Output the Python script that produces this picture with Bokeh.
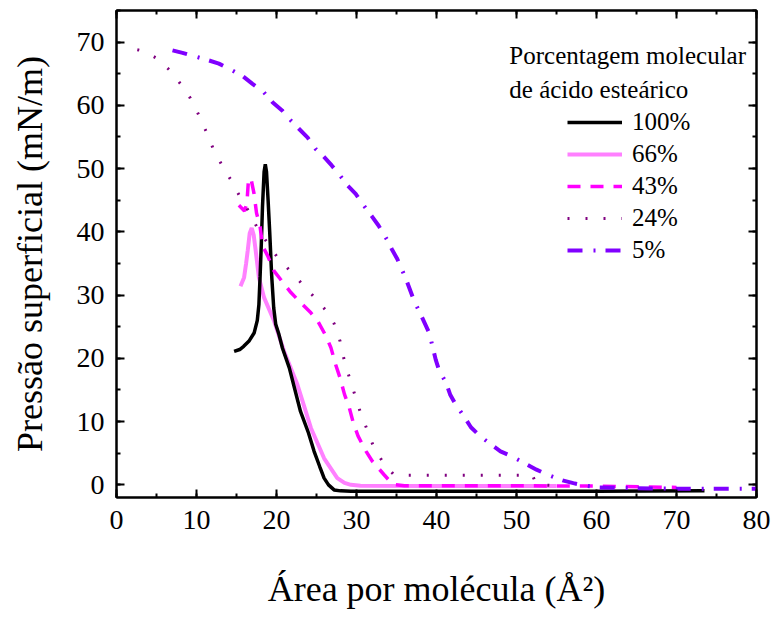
from bokeh.plotting import figure
from bokeh.models import Range1d, LinearAxis, Legend, LegendItem, Label, SingleIntervalTicker
from bokeh.embed import file_html
from bokeh.resources import INLINE

# ---- data ----
x100 = [14.7, 15.4, 15.9, 16.6, 17.2, 17.6, 17.8, 17.95, 18.1, 18.25, 18.45, 18.6, 18.75, 18.95, 19.15,
        19.4, 19.65, 19.9, 20.3, 20.75, 21.6, 23.0, 24.0, 24.7, 25.4, 25.95, 26.5, 27.2, 28.0, 29.3,
        40.0, 50.0, 60.0, 73.5]
y100 = [21.1, 21.4, 21.9, 22.8, 24.0, 26.0, 28.5, 33.0, 38.0, 44.0, 49.5, 50.7, 49.5, 45.0, 40.0,
        33.0, 28.0, 25.4, 23.8, 21.6, 18.5, 11.6, 8.2, 5.3, 2.9, 1.06, 0.0, -0.8, -0.95, -1.0,
        -1.0, -1.0, -1.0, -0.95]

x66 = [15.5, 15.95, 16.2, 16.4, 16.65, 16.9, 17.15, 17.4, 17.8, 18.45, 19.7, 20.95, 22.6, 24.3,
       25.95, 27.6, 28.5, 29.3, 30.5, 40.0, 55.0]
y66 = [31.4, 32.8, 35.0, 37.0, 39.8, 40.6, 39.5, 37.0, 32.8, 29.6, 25.9, 21.1, 15.9, 9.0,
       4.2, 1.06, 0.3, 0.0, -0.15, -0.2, -0.2]

x43 = [15.3, 16.0, 16.3, 16.5, 16.8, 17.2, 17.5, 17.95, 18.25, 18.9, 19.7, 20.5, 21.8, 22.8, 24.3,
       25.2, 26.2, 26.8, 27.4, 27.95, 28.5, 29.1, 29.6, 30.2, 31.2, 32.0, 33.45, 34.5, 36.0, 50.0,
       60.0, 70.0]
y43 = [44.2, 43.3, 44.5, 48.3, 48.5, 46.0, 43.0, 40.8, 37.8, 36.2, 33.8, 32.5, 30.4, 29.1, 27.2,
       25.8, 23.5, 21.7, 19.0, 16.9, 14.3, 12.2, 9.8, 7.7, 5.3, 3.7, 1.6, 0.1, -0.15, -0.15,
       -0.2, -0.4]

x24 = [2.6, 3.3, 5.1, 6.7, 8.0, 9.2, 10.2, 11.2, 12.1, 13.2, 14.4, 15.5, 16.6, 17.7, 18.9, 20.1,
       21.5, 23.25, 24.7, 26.1, 27.2, 27.95, 28.45, 29.1, 29.8, 30.5, 31.4, 32.2, 33.4, 34.6, 35.5,
       45.0, 52.0, 52.4, 53.0, 56.0]
y24 = [68.8, 68.6, 67.4, 65.5, 63.4, 61.2, 58.7, 55.9, 53.1, 50.5, 48.0, 45.4, 43.1, 40.4, 38.2, 36.0,
       34.1, 31.7, 29.7, 27.7, 25.5, 22.7, 19.8, 17.0, 14.2, 11.4, 8.5, 5.8, 3.4, 1.7, 1.5,
       1.5, 1.5, 0.3, 0.0, -0.2]

x5 = [7.0, 8.25, 9.9, 11.3, 12.8, 14.5, 15.8, 17.0, 18.4, 19.5, 20.7, 21.8, 22.8, 23.9, 24.9, 25.9,
      26.9, 27.95, 28.9, 29.9, 30.95, 31.9, 32.75, 33.8, 34.4, 35.1, 36.2, 37.2, 38.0, 39.1, 39.9,
      40.3, 41.2, 41.7, 42.4, 43.45, 44.3, 45.45, 46.8, 48.0, 49.4, 51.2, 52.5, 53.9, 55.75, 57.1,
      58.5, 60.3, 65.0, 70.0, 80.0]
y5 = [68.7, 68.3, 67.7, 67.2, 66.6, 65.5, 64.6, 63.4, 62.1, 60.5, 59.2, 57.6, 56.3, 54.9, 53.1, 51.9,
      50.5, 48.9, 47.3, 46.0, 44.1, 42.5, 41.0, 38.8, 37.3, 35.7, 32.5, 29.1, 27.0, 24.0, 19.8,
      18.2, 16.1, 14.3, 12.7, 10.8, 9.1, 7.7, 6.4, 5.3, 4.5, 3.3, 2.4, 1.6, 0.7, 0.27,
      -0.1, -0.4, -0.55, -0.6, -0.6]

series_labels = ["100%", "66%", "43%", "24%", "5%"]
legend_title = ["Porcentagem molecular", "de ácido esteárico"]
x_label = "Área por molécula (Å²)"
y_label = "Pressão superficial (mN/m)"

FONT = "Liberation Serif"

p = figure(width=774, height=619, output_backend="svg", toolbar_location=None,
           x_range=Range1d(0, 80), y_range=Range1d(-2, 75),
           min_border_left=116, min_border_right=18, min_border_top=10, min_border_bottom=122,
           x_axis_location=None, y_axis_location=None)
p.grid.visible = False
p.outline_line_color = "black"
p.outline_line_width = 2
p.background_fill_color = "white"
p.border_fill_color = "white"


def style_axis(ax, show_labels):
    ax.axis_line_width = 2
    ax.axis_line_color = "black"
    ax.major_tick_in = 8
    ax.major_tick_out = 0
    ax.minor_tick_in = 4
    ax.minor_tick_out = 0
    ax.major_tick_line_width = 2
    ax.minor_tick_line_width = 2
    ax.major_tick_line_color = "black"
    ax.minor_tick_line_color = "black"
    ax.ticker = SingleIntervalTicker(interval=10, num_minor_ticks=2)
    if show_labels:
        ax.major_label_text_font = FONT
        ax.major_label_text_font_size = "28px"
        ax.major_label_text_color = "black"
    else:
        ax.major_label_text_font_size = "0px"
        ax.major_label_standoff = 0
        ax.major_label_text_alpha = 0


xb = LinearAxis()
style_axis(xb, True)
xb.major_label_standoff = 13
xb.axis_label = x_label
xb.axis_label_text_font = FONT
xb.axis_label_text_font_size = "36px"
xb.axis_label_text_font_style = "normal"
xb.axis_label_text_color = "black"
xb.axis_label_standoff = 37
p.add_layout(xb, "below")

yl = LinearAxis()
style_axis(yl, True)
yl.major_label_standoff = 12
yl.axis_label = y_label
yl.axis_label_text_font = FONT
yl.axis_label_text_font_size = "36px"
yl.axis_label_text_font_style = "normal"
yl.axis_label_text_color = "black"
yl.axis_label_standoff = 24
p.add_layout(yl, "left")

xt = LinearAxis()
style_axis(xt, False)
p.add_layout(xt, "above")

yr = LinearAxis()
style_axis(yr, False)
p.add_layout(yr, "right")

r66 = p.line(x66, y66, line_color="#ff80ff", line_width=4)
r100 = p.line(x100, y100, line_color="black", line_width=3.5)
r43 = p.line(x43, y43, line_color="#ff00ff", line_width=3.5, line_dash="13 10")
r24 = p.line(x24, y24, line_color="#800080", line_width=3, line_dash="2 16")
r5 = p.line(x5, y5, line_color="#8000ff", line_width=4, line_dash="15 11 2 10")

legend = Legend(items=[LegendItem(label=series_labels[0], renderers=[r100]),
                       LegendItem(label=series_labels[1], renderers=[r66]),
                       LegendItem(label=series_labels[2], renderers=[r43]),
                       LegendItem(label=series_labels[3], renderers=[r24]),
                       LegendItem(label=series_labels[4], renderers=[r5])],
                location=(451, 231), padding=0, margin=0, spacing=0,
                glyph_width=55, glyph_height=32, label_height=32, label_standoff=10,
                label_text_font=FONT, label_text_font_size="25px", label_text_color="black",
                border_line_alpha=0, background_fill_alpha=0)
p.add_layout(legend, "center")

p.add_layout(Label(x=49.1, y=67.9, text=legend_title[0], text_font=FONT, text_font_size="25px",
                   text_baseline="middle", text_align="left", text_color="black"))
p.add_layout(Label(x=49.1, y=62.5, text=legend_title[1], text_font=FONT, text_font_size="25px",
                   text_baseline="middle", text_align="left", text_color="black"))

open("out.html", "w").write(file_html(p, INLINE))
